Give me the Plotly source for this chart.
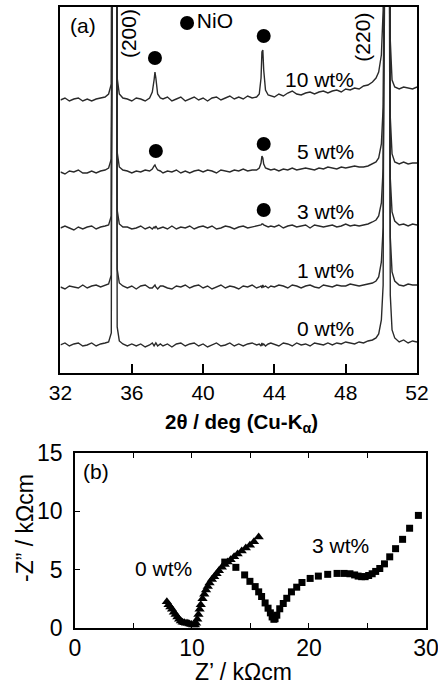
import plotly.graph_objects as go

# ---------------- Panel (a): XRD ----------------
two_theta = [32.0, 32.25, 32.5, 32.75, 33.0, 33.25, 33.5, 33.75, 34.0, 34.25, 34.5,
             34.7, 34.85, 34.92, 35.02, 35.12, 35.18, 35.3, 35.5,
             35.75, 36.0, 36.25, 36.5, 36.75, 37.0,
             37.15, 37.25, 37.3, 37.35, 37.45, 37.6,
             37.75, 38.0, 38.25, 38.5, 38.75, 39.0, 39.25, 39.5, 39.75, 40.0, 40.25,
             40.5, 40.75, 41.0, 41.25, 41.5, 41.75, 42.0, 42.25, 42.5, 42.75, 43.0,
             43.15, 43.25, 43.3, 43.35, 43.4, 43.5, 43.65, 43.8,
             44.0, 44.25, 44.5, 44.75, 45.0, 45.25, 45.5, 45.75, 46.0, 46.25, 46.5,
             46.75, 47.0, 47.25, 47.5, 47.75, 48.0, 48.25, 48.5, 48.75, 49.0, 49.25, 49.5,
             49.7, 49.85, 50.0, 50.1, 50.2, 50.3, 50.4, 50.5, 50.6, 50.75, 50.9,
             51.0, 51.25, 51.5, 51.75, 52.0]

int_0wt = [0, 2, -1, 1, 2, -1, 0, 2, -1, 1, 2,
           3, 12, 700, 700, 700, 18, 4, 1,
           -1, 1, -1, 1, -2, 0,
           2, -1, 0, 2, -1, 1,
           -1, 1, -2, 1, 2, -1, 1, 2, -1, 1, -2, 0, 2, -1, 0, 2, -1, 1, -1, 1, 2, 0,
           1, -1, 2, 0, 1, -1, 1, 2,
           1, -1, 2, 1, -1, 2, 0, 1, -1, 2, 1, 0, 2, 0, 2, 1, 3, 2, 1, 3, 2, 4, 5,
           7, 11, 25, 60, 700, 700, 700, 50, 15, 7, 4,
           3, 5, 2, 4, 3]

int_1wt = [0, -2, 1, 0, -1, 2, -1, 1, 2, 0, 2,
           3, 12, 700, 700, 700, 18, 4, 1,
           -1, 1, -2, 1, 2, -1,
           -1, 1, 2, 0, -2, 1,
           1, -1, -2, 1, 0, 2, -1, 1, 2, -1, 1, -2, 0, 2, -1, 1, 0, -2, 1, 0, 2, -1,
           0, 1, -1, 2, 0, 1, -1, 1,
           0, 2, 1, -1, 2, 1, -1, 1, 2, 0, -1, 2, 1, 0, 2, 1, 1, 3, 2, 1, 2, 3, 4,
           6, 10, 25, 60, 700, 700, 700, 50, 15, 6, 3,
           2, 1, 3, 2, 2]

int_3wt = [0, 2, 0, -2, 1, -1, 1, 2, -1, 1, 2,
           3, 12, 700, 700, 700, 18, 4, 1,
           1, -1, 0, 2, -1, 1,
           -1, 1, 0, 2, -1, 0,
           1, -1, 2, -1, 1, 0, 2, -1, 1, 2, 0, 2, -1, 0, 2, 1, -1, 1, 2, 0, 1, 2,
           2, 3, 4, 4, 3, 2, 1, 2,
           1, 3, 0, 2, 3, 1, 2, 3, 0, 3, 2, 1, 2, 3, 1, 2, 4, 2, 3, 2, 3, 4, 6,
           8, 12, 25, 60, 700, 700, 700, 50, 16, 7, 4,
           3, 4, 2, 4, 3]

int_5wt = [0, -2, 1, 0, 2, -1, -1, 1, -1, 1, 2,
           4, 13, 700, 700, 700, 20, 5, 2,
           1, -1, 1, 0, 2, 1,
           3, 6, 7, 5, 2, 1,
           -1, 1, 0, 2, -1, 1, -1, 1, 2, 0, 2, 1, -1, 2, 1, 0, 2, 1, 3, 1, 2, 2,
           4, 9, 16, 14, 8, 4, 3, 2,
           3, 1, 3, 2, 4, 2, 3, 4, 3, 2, 4, 3, 5, 4, 3, 5, 4, 5, 6, 5, 5, 6, 8,
           10, 14, 28, 65, 700, 700, 700, 55, 18, 10, 9,
           8, 10, 8, 9, 9]

int_10wt = [0, 2, -1, 1, 2, -1, 1, -1, 1, 2, 3,
            6, 16, 700, 700, 700, 22, 6, 2,
            1, -1, 2, 1, -1, 2,
            8, 20, 28, 22, 6, 2,
            1, 3, -1, 1, 3, -1, 1, 3, 0, 2, -1, 2, 3, 0, 2, 4, 1, 3, 1, 4, 2, 3,
            6, 22, 48, 50, 30, 10, 5, 4,
            3, 6, 4, 7, 9, 6, 5, 7, 8, 6, 8, 9, 7, 9, 10, 8, 11, 10, 12, 11, 14, 15, 18,
            22, 28, 45, 90, 700, 700, 700, 60, 20, 13, 12,
            11, 13, 12, 11, 13]

sample_labels = ["0 wt%", "1 wt%", "3 wt%", "5 wt%", "10 wt%"]
offsets = [28, 86, 145, 201, 273]
label_y = [44, 102, 161, 221, 293]
traces_a = [int_0wt, int_1wt, int_3wt, int_5wt, int_10wt]

nio_x = [37.3, 43.4, 37.35, 43.4, 43.4]
nio_y = [315, 337, 222, 229, 163]

# ---------------- Panel (b): impedance ----------------
z0_re = [7.85, 8.0, 8.15, 8.3, 8.45, 8.6, 8.75, 8.9, 9.05, 9.2,
         9.35, 9.5, 9.65, 9.8, 9.95, 10.1, 10.25, 10.35, 10.45, 10.55,
         10.65, 10.75, 10.9, 11.05, 11.2, 11.35, 11.5, 11.7, 11.9, 12.1,
         12.3, 12.55, 12.8, 13.05, 13.3, 13.6, 13.9, 14.25, 14.6, 14.95,
         15.3, 15.7]
z0_im = [2.25, 2.0, 1.8, 1.6, 1.35, 1.15, 0.95, 0.75, 0.6, 0.5,
         0.45, 0.4, 0.4, 0.35, 0.3, 0.25, 0.25, 0.4, 0.75, 1.15,
         1.6, 2.0, 2.5, 2.9, 3.25, 3.55, 3.85, 4.15, 4.4, 4.65,
         4.9, 5.2, 5.45, 5.65, 5.85, 6.1, 6.35, 6.6, 6.85, 7.1,
         7.4, 7.8]

z3_re = [12.8, 13.75, 14.5, 14.95, 15.4, 15.7, 15.95, 16.25, 16.5, 16.7,
         16.85, 17.0, 17.1, 17.25, 17.5, 17.8, 18.1, 18.5, 18.95, 19.4,
         20.1, 20.8, 21.6, 22.4, 23.0, 23.5, 23.9, 24.2, 24.5, 24.8,
         25.1, 25.4, 25.7, 26.05, 26.45, 26.9, 27.4, 28.0, 28.6, 29.35]
z3_im = [5.65, 5.2, 4.55, 4.0, 3.55, 3.1, 2.7, 2.15, 1.7, 1.3,
         0.95, 0.75, 0.8, 1.1, 1.65, 2.1, 2.55, 3.1, 3.5, 3.9,
         4.25, 4.45, 4.6, 4.68, 4.68, 4.65, 4.55, 4.45, 4.4, 4.4,
         4.5, 4.65, 4.85, 5.1, 5.5, 6.1, 6.8, 7.6, 8.55, 9.65]

FONT = "Liberation Sans, Arial, sans-serif"
FS = 21      # in-plot labels
FS_TICK_A = 21
FS_B = 23    # panel (b) ticks and titles


def tf(size):
    return dict(size=size, color="black", family=FONT)


fig = go.Figure()

for vals, off in zip(traces_a, offsets):
    fig.add_trace(go.Scatter(
        x=two_theta, y=[v + off for v in vals], mode="lines",
        line=dict(color="#2a2a2a", width=1.4), xaxis="x", yaxis="y",
        showlegend=False, hoverinfo="skip"))

fig.add_trace(go.Scatter(
    x=nio_x, y=nio_y, mode="markers",
    marker=dict(symbol="circle", size=14, color="black"),
    xaxis="x", yaxis="y", showlegend=False))

# NiO legend marker
fig.add_trace(go.Scatter(
    x=[39.1], y=[350], mode="markers+text", text=["NiO"],
    textposition="middle right", textfont=tf(FS),
    marker=dict(symbol="circle", size=14, color="black"),
    xaxis="x", yaxis="y", showlegend=False))

fig.add_trace(go.Scatter(
    x=z0_re, y=z0_im, mode="markers",
    marker=dict(symbol="triangle-up", size=9, color="black"),
    xaxis="x2", yaxis="y2", showlegend=False))
fig.add_trace(go.Scatter(
    x=z3_re, y=z3_im, mode="markers",
    marker=dict(symbol="square", size=7, color="black"),
    xaxis="x2", yaxis="y2", showlegend=False))

annotations = []
for lab, ly in zip(sample_labels, label_y):
    annotations.append(dict(x=48.6, y=ly, xref="x", yref="y", text=lab,
                            showarrow=False, xanchor="right", yanchor="middle",
                            font=tf(FS)))
annotations += [
    dict(x=32.4, y=347, xref="x", yref="y", text="(a)", showarrow=False,
         xanchor="left", yanchor="middle", font=tf(FS)),
    dict(x=35.85, y=339, xref="x", yref="y", text="(200)", showarrow=False, textangle=-90,
         xanchor="center", yanchor="middle", font=tf(FS)),
    dict(x=48.95, y=336, xref="x", yref="y", text="(220)", showarrow=False, textangle=-90,
         xanchor="center", yanchor="middle", font=tf(FS)),
    dict(x=0.5525, y=0.3834, xref="paper", yref="paper",
         text="<b>2θ / deg (Cu-K<sub>α</sub>)</b>", showarrow=False,
         xanchor="center", yanchor="middle", font=tf(20.5)),
    dict(x=7.6, y=5.1, xref="x2", yref="y2", text="0 wt%", showarrow=False,
         xanchor="center", yanchor="middle", font=tf(FS)),
    dict(x=22.7, y=7.1, xref="x2", yref="y2", text="3 wt%", showarrow=False,
         xanchor="center", yanchor="middle", font=tf(FS)),
    dict(x=0.5, y=13.4, xref="x2", yref="y2", text="(b)", showarrow=False,
         xanchor="left", yanchor="middle", font=tf(FS)),
    dict(x=0.5548, y=0.0204, xref="paper", yref="paper", text="Z’ / kΩcm", showarrow=False,
         xanchor="center", yanchor="middle", font=tf(FS_B)),
    dict(x=0.0571, y=0.2303, xref="paper", yref="paper", text="-Z” / kΩcm", showarrow=False,
         textangle=-90, xanchor="center", yanchor="middle", font=tf(FS_B)),
]

fig.update_layout(
    width=438, height=686,
    margin=dict(l=0, r=0, t=0, b=0),
    paper_bgcolor="white", plot_bgcolor="white",
    font=dict(family=FONT, size=FS, color="black"),
    xaxis=dict(domain=[0.1381, 0.9521], range=[32, 52], anchor="y",
               tickvals=[32, 36, 40, 44, 48, 52], ticks="inside", ticklen=9,
               tickwidth=1.5, tickcolor="black", showline=True, mirror=True,
               linecolor="black", linewidth=1.5, showgrid=False, zeroline=False,
               tickfont=tf(FS_TICK_A), ticklabelstandoff=0,
               ticklabeloverflow="allow", automargin=False),
    yaxis=dict(domain=[0.4563, 0.9898], range=[0, 366], anchor="x",
               showticklabels=False, ticks="", showline=True, mirror=True,
               linecolor="black", linewidth=1.5, showgrid=False, zeroline=False,
               automargin=False),
    xaxis2=dict(domain=[0.1712, 0.9726], range=[0, 30], anchor="y2",
                tickvals=[0, 5, 10, 15, 20, 25, 30],
                ticktext=["0", "", "10", "", "20", "", "30"],
                ticks="inside", ticklen=5, tickwidth=1.2, tickcolor="black",
                showline=True, mirror="ticks", linecolor="black", linewidth=1.5,
                showgrid=False, zeroline=False, tickfont=tf(FS_B),
                ticklabelstandoff=-1, ticklabeloverflow="allow", automargin=False),
    yaxis2=dict(domain=[0.0845, 0.3397], range=[0, 15], anchor="x2",
                tickvals=[0, 5, 10, 15], ticks="inside", ticklen=5, tickwidth=1.2,
                tickcolor="black", showline=True, mirror=True, linecolor="black",
                linewidth=1.5, showgrid=False, zeroline=False, tickfont=tf(FS_B),
                ticklabelstandoff=6, ticklabeloverflow="allow", automargin=False),
    annotations=annotations,
)

fig.write_html("out.html", config={"displayModeBar": False},
               post_script="document.body.style.margin='0';")
